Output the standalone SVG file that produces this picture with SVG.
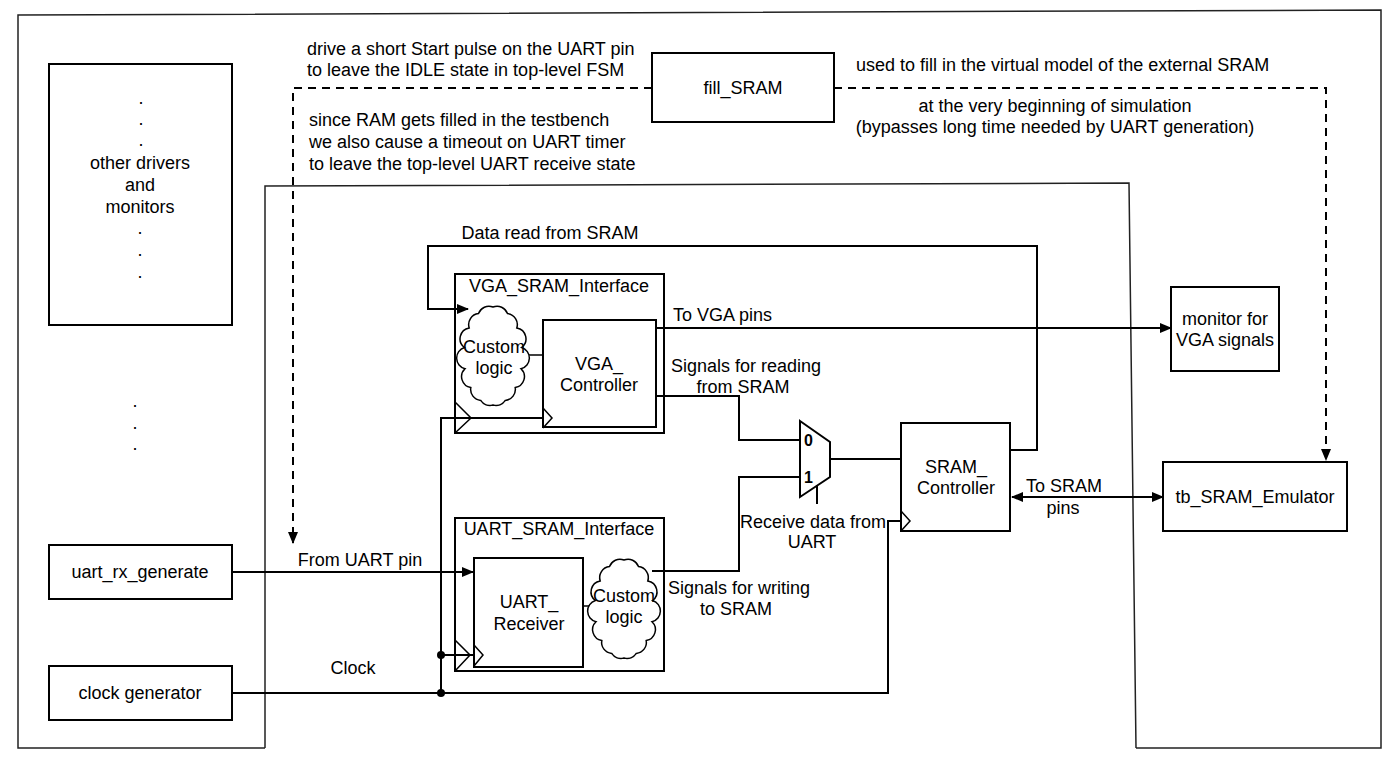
<svg xmlns="http://www.w3.org/2000/svg" width="1394" height="768" viewBox="0 0 1394 768">
<defs>
<style>
text{font-family:"Liberation Sans",Arial,Helvetica,sans-serif;font-size:18px;fill:#000}
.c{text-anchor:middle;dominant-baseline:central}
.l{dominant-baseline:central}
.dot{text-anchor:middle}
.box{fill:#fff;stroke:#000;stroke-width:2}
.w{fill:none;stroke:#000;stroke-width:2}
.t{fill:none;stroke:#000;stroke-width:1.5}
.d{fill:none;stroke:#000;stroke-width:2;stroke-dasharray:8 6}
.frame{fill:none;stroke:#222;stroke-width:1.5}
.b{font-weight:bold;font-size:16px}
.cl{fill:#fff;stroke:#000;stroke-width:1.5}
</style>
<marker id="ah" markerUnits="userSpaceOnUse" markerWidth="12" markerHeight="10" refX="11" refY="5" orient="auto-start-reverse" viewBox="0 0 12 10"><path d="M0,0 L12,5 L0,10 z" fill="#000"/></marker>
<path id="cloud" d="M34,6 A11,11 0 0 1 48.5,12.6 A11,11 0 0 1 57.8,26.9 A11,11 0 0 1 62.6,46.5 A11,11 0 0 1 62,67.7 A11,11 0 0 1 56.2,86.5 A11,11 0 0 1 46.3,99.4 A11,11 0 0 1 34,104 A11,11 0 0 1 21.7,99.4 A11,11 0 0 1 11.8,86.5 A11,11 0 0 1 6,67.7 A11,11 0 0 1 5.4,46.5 A11,11 0 0 1 10.2,26.9 A11,11 0 0 1 19.5,12.6 A11,11 0 0 1 34,6 Z"/>
</defs>
<rect width="1394" height="768" fill="#fff"/>

<g id="frames">
<polyline class="frame" points="265,748 18,748 18,15 1381,10 1381,748 1136,748"/>
<polyline class="frame" points="265,748 265,186 1129,183 1136,748"/>
</g>

<g id="notes">
<text x="307" y="49" class="l">drive a short Start pulse on the UART pin</text>
<text x="307" y="70" class="l">to leave the IDLE state in top-level FSM</text>
<text x="309" y="120" class="l">since RAM gets filled in the testbench</text>
<text x="309" y="142" class="l">we also cause a timeout on UART timer</text>
<text x="309" y="164" class="l">to leave the top-level UART receive state</text>
<text x="856" y="65" class="l">used to fill in the virtual model of the external SRAM</text>
<text x="1055" y="106" class="c">at the very beginning of simulation</text>
<text x="1055" y="127" class="c">(bypasses long time needed by UART generation)</text>
</g>

<g id="connectors">
<path class="d" d="M652,88 H293 V543" marker-end="url(#ah)"/>
<path class="d" d="M834,88 H1326 V460" marker-end="url(#ah)"/>
<path class="w" d="M232,572 H473" marker-end="url(#ah)"/>
<path class="w" d="M232,693 H888 V521 H901"/>
<path class="w" d="M441,693 V418 H543"/>
<path class="w" d="M441,655 H474"/>
<circle cx="441" cy="655" r="4" fill="#000"/>
<circle cx="441" cy="693" r="4" fill="#000"/>
<path class="w" d="M1010,450 H1037 V246 H428 V309 H468" marker-end="url(#ah)"/>
<path class="w" d="M656,328 H1171" marker-end="url(#ah)"/>
<path class="w" d="M656,396 H739 V440 H800"/>
<path class="w" d="M652,571 H739 V477 H800"/>
<path class="w" d="M830,459 H901"/>
<path class="w" d="M817,485 V504"/>
<path class="w" d="M1012,497 H1163" marker-start="url(#ah)" marker-end="url(#ah)"/>
<path class="t" d="M527,355 H543"/>
<path class="t" d="M583,606 H592"/>
<text x="360" y="560" class="c">From UART pin</text>
<text x="353" y="668" class="c">Clock</text>
<text x="550" y="233" class="c">Data read from SRAM</text>
<text x="673" y="315" class="l">To VGA pins</text>
<text x="671" y="366" class="l">Signals for reading</text>
<text x="743" y="387" class="c">from SRAM</text>
<text x="668" y="588" class="l">Signals for writing</text>
<text x="736" y="609" class="c">to SRAM</text>
<text x="813" y="522" class="c">Receive data from</text>
<text x="812" y="542" class="c">UART</text>
<text x="1026" y="486" class="l">To SRAM</text>
<text x="1063" y="508" class="c">pins</text>
</g>

<g id="other_drivers">
<rect class="box" x="49" y="64" width="183" height="261"/>
<text x="141" y="104" class="dot">.</text>
<text x="141" y="125" class="dot">.</text>
<text x="141" y="146" class="dot">.</text>
<text x="140" y="163" class="c">other drivers</text>
<text x="140" y="185" class="c">and</text>
<text x="140" y="207" class="c">monitors</text>
<text x="140" y="234" class="dot">.</text>
<text x="140" y="256" class="dot">.</text>
<text x="140" y="278" class="dot">.</text>
</g>
<g id="more_dots">
<text x="135" y="407" class="dot">.</text>
<text x="135" y="429" class="dot">.</text>
<text x="135" y="450" class="dot">.</text>
</g>

<g id="uart_rx_generate">
<rect class="box" x="49" y="545" width="183" height="54"/>
<text x="140" y="572" class="c">uart_rx_generate</text>
</g>

<g id="clock_generator">
<rect class="box" x="49" y="666" width="183" height="54"/>
<text x="140" y="693" class="c">clock generator</text>
</g>

<g id="fill_SRAM">
<rect class="box" x="652" y="53" width="182" height="69"/>
<text x="743" y="88" class="c">fill_SRAM</text>
</g>

<g id="VGA_SRAM_Interface">
<rect class="w" x="455" y="274" width="209" height="159"/>
<text x="559" y="286" class="c">VGA_SRAM_Interface</text>
<polyline class="t" points="455,402 471,418 455,433"/>
</g>

<g id="vga_custom_logic">
<use href="#cloud" class="cl" transform="translate(459,301)"/>
<text x="494" y="347" class="c">Custom</text>
<text x="494" y="368" class="c">logic</text>
</g>

<g id="VGA_Controller">
<rect class="w" x="543" y="320" width="113" height="107"/>
<text x="599" y="364" class="c">VGA_</text>
<text x="599" y="385" class="c">Controller</text>
<polyline class="t" points="543,408 552,418 543,428"/>
</g>

<g id="UART_SRAM_Interface">
<rect class="w" x="455" y="518" width="209" height="153"/>
<text x="559" y="529" class="c">UART_SRAM_Interface</text>
<polyline class="t" points="455,640 470,655 455,671"/>
</g>

<g id="UART_Receiver">
<rect class="w" x="474" y="558" width="109" height="109"/>
<text x="529" y="602" class="c">UART_</text>
<text x="529" y="624" class="c">Receiver</text>
<polyline class="t" points="474,645 483,655 474,666"/>
</g>

<g id="uart_custom_logic">
<use href="#cloud" class="cl" transform="translate(590,554)"/>
<text x="624" y="596" class="c">Custom</text>
<text x="624" y="617" class="c">logic</text>
</g>

<g id="mux">
<polygon class="w" points="800,421 830,442 830,477 800,497" fill="#fff"/>
<text x="804" y="440" class="l b">0</text>
<text x="804" y="477" class="l b">1</text>
</g>

<g id="SRAM_Controller">
<rect class="w" x="901" y="423" width="109" height="108"/>
<text x="956" y="467" class="c">SRAM_</text>
<text x="956" y="488" class="c">Controller</text>
<polyline class="t" points="901,511 910,521 901,531"/>
</g>

<g id="monitor_VGA">
<rect class="box" x="1171" y="287" width="108" height="84"/>
<text x="1225" y="319" class="c">monitor for</text>
<text x="1225" y="340" class="c">VGA signals</text>
</g>

<g id="tb_SRAM_Emulator">
<rect class="box" x="1163" y="462" width="184" height="69"/>
<text x="1255" y="497" class="c">tb_SRAM_Emulator</text>
</g>
</svg>
